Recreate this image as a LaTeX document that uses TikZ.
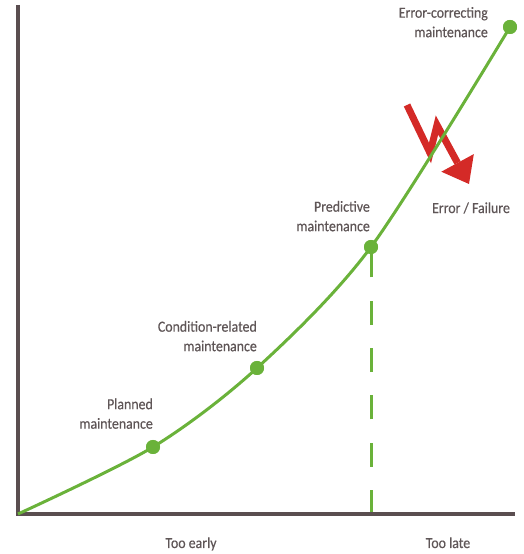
\documentclass[tikz,border=0pt]{standalone}
\usepackage{fontspec}
\setmainfont{Carlito}[FakeStretch=0.9,FakeBold=0.4]
\usepackage{tikz}
\usetikzlibrary{positioning,arrows.meta,calc}
\definecolor{leafgreen}{HTML}{6AB23A}
\definecolor{boltred}{HTML}{D42A27}
\definecolor{axisgrey}{HTML}{5A4E50}
\definecolor{textgrey}{HTML}{5F5657}
\tikzstyle{axis}=[draw=axisgrey, line width=3.2pt, line join=miter]
\tikzstyle{curve}=[draw=leafgreen, line width=3pt]
\tikzstyle{dot}=[circle, fill=leafgreen, inner sep=0pt, minimum size=14pt]
\tikzstyle{dashline}=[draw=leafgreen, line width=3pt, dash pattern=on 24pt off 23.3pt]
\tikzstyle{bolt}=[draw=boltred, line width=7pt, line join=miter,
    -{Triangle[width=37pt,length=24pt,line width=0pt]}]
\tikzstyle{annot}=[text=textgrey, align=right, inner sep=0pt,
    font=\fontsize{15.4}{19.5}\selectfont]

\begin{document}
\begin{tikzpicture}[x=1pt,y=1pt]

    \useasboundingbox (0,0) rectangle (523,554);

    % axes
    \coordinate (origin) at (18,40);
    \coordinate (yend) at (18,549);
    \coordinate (xend) at (515,40);

    % maintenance points
    \node[dot] (planned) at (153,107) {};
    \node[dot] (condition) at (257,186) {};
    \node[dot] (predictive) at (371,307) {};
    \node[dot] (errcorr) at (510,527) {};

    % dashed drop line
    \draw[dashline] (predictive |- origin) -- (predictive.center);
    \draw[axis] (yend) -- (origin) -- (xend);

    % error bolt
    \coordinate (b0) at (407,449);
    \coordinate (b1) at (430,401);
    \coordinate (b2) at (437,429);
    \coordinate (b3) at (469,370);
    \draw[bolt] (b0) -- (b1) -- (b2) -- (b3);

    % curve
    \draw[curve] plot[smooth] coordinates {(origin) (planned) (condition) (predictive) (errcorr)};
    \foreach \p in {planned,condition,predictive,errcorr}
        \node[dot] at (\p) {};

    % labels
    \node[annot, anchor=south east] (plannedtext) at ($(planned)+(0,18)$) {Planned\\maintenance};
    \node[annot, anchor=south east] (conditiontext) at ($(condition)+(0,16.5)$) {Condition-related\\maintenance};
    \node[annot, anchor=south east] (predictivetext) at ($(predictive)+(-1,15.5)$) {Predictive\\maintenance};
    \node[annot, anchor=south east] (errcorrtext) at ($(errcorr)+(-22,-10.5)$) {Error-correcting\\maintenance};
    \node[annot] (failuretext) at (471,346) {Error / Failure};
    \node[annot, anchor=base] (earlytext) at (191,6) {Too early};
    \node[annot, anchor=base] (latetext) at (448,6) {Too late};

\end{tikzpicture}
\end{document}
